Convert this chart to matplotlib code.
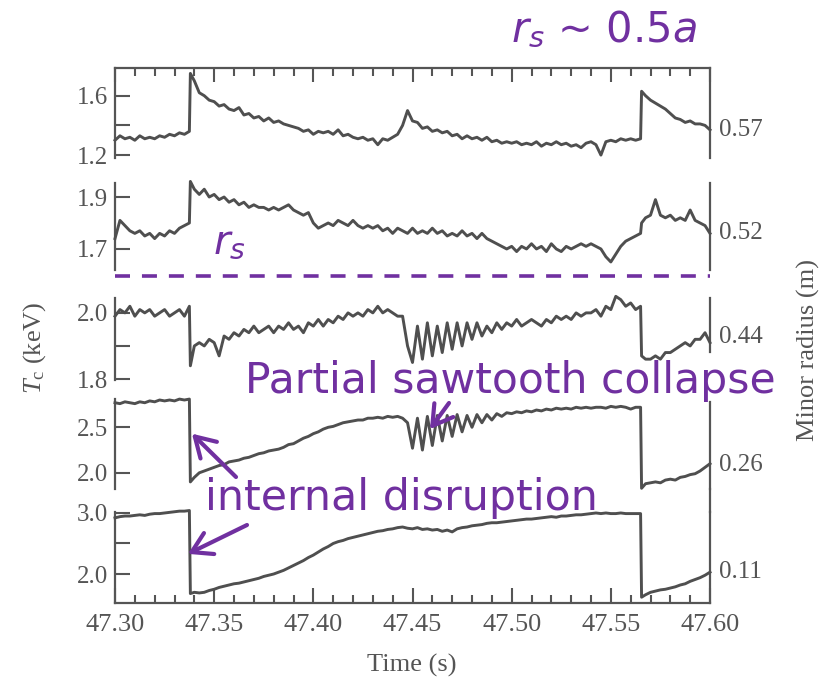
import matplotlib
matplotlib.use("Agg")
import matplotlib.pyplot as plt
from matplotlib.ticker import MultipleLocator, FixedLocator, FormatStrFormatter
from matplotlib.lines import Line2D

plt.rcParams['mathtext.fontset'] = 'custom'
plt.rcParams['mathtext.rm'] = 'Liberation Serif'
plt.rcParams['mathtext.it'] = 'Liberation Serif:italic'
plt.rcParams['mathtext.bfit'] = 'DejaVu Sans:italic'
plt.rcParams['lines.scale_dashes'] = False

# ---------------- data ----------------
time_s = [
    47.3000, 47.3025, 47.3050, 47.3075, 47.3100, 47.3125, 47.3150, 47.3175,
    47.3200, 47.3225, 47.3250, 47.3275, 47.3300, 47.3325, 47.3350, 47.3375,
    47.3380,
    47.3400, 47.3425, 47.3450, 47.3475, 47.3500, 47.3525, 47.3550, 47.3575, 47.3600, 47.3625,
    47.3650, 47.3675, 47.3700, 47.3725, 47.3750, 47.3775, 47.3800, 47.3825, 47.3850, 47.3875,
    47.3900, 47.3925, 47.3950, 47.3975, 47.4000, 47.4025, 47.4050, 47.4075, 47.4100, 47.4125,
    47.4150, 47.4175, 47.4200, 47.4225, 47.4250, 47.4275, 47.4300, 47.4325, 47.4350, 47.4375,
    47.4400, 47.4425, 47.4450, 47.4475, 47.4500, 47.4525, 47.4550, 47.4575, 47.4600, 47.4625,
    47.4650, 47.4675, 47.4700, 47.4725, 47.4750, 47.4775, 47.4800, 47.4825, 47.4850, 47.4875,
    47.4900, 47.4925, 47.4950, 47.4975, 47.5000, 47.5025, 47.5050, 47.5075, 47.5100, 47.5125,
    47.5150, 47.5175, 47.5200, 47.5225, 47.5250, 47.5275, 47.5300, 47.5325, 47.5350, 47.5375,
    47.5400, 47.5425, 47.5450, 47.5475, 47.5500, 47.5525, 47.5550, 47.5575, 47.5600, 47.5625,
    47.5650,
    47.5655,
    47.5675, 47.5700, 47.5725, 47.5750, 47.5775, 47.5800, 47.5825, 47.5850, 47.5875, 47.5900,
    47.5925, 47.5950, 47.5975, 47.6000,
]

Tc_r057 = [
    1.30, 1.33, 1.31, 1.32, 1.30, 1.33, 1.31, 1.32, 1.31, 1.33, 1.32, 1.34, 1.33, 1.35, 1.34, 1.36,
    1.75,
    1.70, 1.62, 1.60, 1.57, 1.56, 1.53, 1.54, 1.51, 1.50, 1.52,
    1.47, 1.48, 1.45, 1.46, 1.43, 1.45, 1.42, 1.43, 1.41, 1.40,
    1.39, 1.38, 1.36, 1.37, 1.34, 1.36, 1.35, 1.36, 1.34, 1.37,
    1.33, 1.34, 1.32, 1.31, 1.32, 1.30, 1.31, 1.27, 1.31, 1.30,
    1.32, 1.34, 1.40, 1.50, 1.43, 1.42, 1.38, 1.39, 1.36, 1.37,
    1.35, 1.36, 1.33, 1.34, 1.31, 1.33, 1.31, 1.32, 1.30, 1.32,
    1.29, 1.30, 1.28, 1.29, 1.28, 1.29, 1.27, 1.28, 1.27, 1.29,
    1.26, 1.28, 1.27, 1.29, 1.27, 1.28, 1.26, 1.27, 1.25, 1.28,
    1.29, 1.27, 1.20, 1.29, 1.30, 1.29, 1.31, 1.30, 1.31, 1.30,
    1.31,
    1.63,
    1.60, 1.57, 1.55, 1.53, 1.51, 1.48, 1.45, 1.44, 1.42, 1.43, 1.41, 1.41, 1.40, 1.37,
]

Tc_r052 = [
    1.74, 1.81, 1.79, 1.77, 1.76, 1.77, 1.75, 1.76, 1.74, 1.76, 1.75, 1.77, 1.76, 1.78, 1.79, 1.80,
    1.96,
    1.93, 1.91, 1.93, 1.90, 1.91, 1.89, 1.90, 1.88, 1.89, 1.87,
    1.88, 1.86, 1.87, 1.86, 1.86, 1.85, 1.86, 1.85, 1.86, 1.87,
    1.85, 1.84, 1.83, 1.84, 1.80, 1.78, 1.79, 1.80, 1.79, 1.81,
    1.80, 1.79, 1.81, 1.79, 1.78, 1.79, 1.78, 1.79, 1.77, 1.78,
    1.76, 1.78, 1.77, 1.76, 1.78, 1.76, 1.77, 1.76, 1.78, 1.76,
    1.77, 1.75, 1.76, 1.75, 1.77, 1.75, 1.76, 1.74, 1.76, 1.74,
    1.73, 1.72, 1.71, 1.70, 1.71, 1.69, 1.71, 1.70, 1.72, 1.70,
    1.71, 1.69, 1.72, 1.70, 1.69, 1.71, 1.70, 1.71, 1.72, 1.71,
    1.72, 1.71, 1.70, 1.67, 1.65, 1.68, 1.71, 1.73, 1.74, 1.75,
    1.76,
    1.80,
    1.82, 1.83, 1.89, 1.83, 1.82, 1.83, 1.81, 1.82, 1.81, 1.85, 1.81, 1.80, 1.79, 1.76,
]

Tc_r044 = [
    1.99, 2.01, 2.00, 2.02, 1.99, 2.01, 2.00, 2.01, 1.99, 2.00, 2.01, 1.99, 2.00, 2.01, 1.99, 2.02,
    1.84,
    1.90, 1.91, 1.90, 1.92, 1.91, 1.87, 1.93, 1.92, 1.94, 1.93,
    1.95, 1.94, 1.96, 1.94, 1.95, 1.96, 1.94, 1.96, 1.95, 1.97,
    1.95, 1.96, 1.94, 1.97, 1.96, 1.98, 1.96, 1.98, 1.97, 1.99,
    1.98, 2.00, 1.99, 2.00, 1.99, 2.01, 2.00, 2.02, 2.00, 2.01,
    2.00, 1.99, 1.99, 1.90, 1.85, 1.96, 1.86, 1.97, 1.87, 1.96,
    1.88, 1.97, 1.89, 1.97, 1.90, 1.97, 1.92, 1.97, 1.93, 1.96,
    1.94, 1.97, 1.95, 1.97, 1.96, 1.98, 1.96, 1.97, 1.98, 1.97,
    1.96, 1.98, 1.97, 1.99, 1.98, 1.99, 1.98, 2.00, 1.99, 2.00,
    2.00, 2.01, 1.99, 2.02, 2.01, 2.05, 2.04, 2.02, 2.03, 2.01,
    2.02,
    1.87,
    1.86, 1.86, 1.87, 1.86, 1.88, 1.88, 1.89, 1.90, 1.91, 1.90, 1.92, 1.92, 1.94, 1.91,
]

Tc_r026 = [
    2.77, 2.76, 2.78, 2.77, 2.76, 2.78, 2.77, 2.79, 2.78, 2.80, 2.79, 2.80, 2.79, 2.81, 2.80, 2.81,
    1.90,
    1.95, 2.00, 2.02, 2.04, 2.06, 2.08, 2.09, 2.12, 2.13, 2.14,
    2.16, 2.17, 2.19, 2.21, 2.22, 2.24, 2.25, 2.26, 2.28, 2.31,
    2.32, 2.35, 2.38, 2.40, 2.43, 2.45, 2.48, 2.50, 2.51, 2.53,
    2.55, 2.56, 2.57, 2.58, 2.58, 2.60, 2.60, 2.61, 2.60, 2.62,
    2.61, 2.62, 2.60, 2.55, 2.27, 2.60, 2.25, 2.62, 2.30, 2.63,
    2.35, 2.63, 2.40, 2.64, 2.45, 2.63, 2.50, 2.64, 2.55, 2.64,
    2.58, 2.65, 2.62, 2.66, 2.65, 2.67, 2.66, 2.68, 2.67, 2.69,
    2.68, 2.70, 2.69, 2.71, 2.70, 2.71, 2.70, 2.72, 2.71, 2.72,
    2.71, 2.72, 2.72, 2.71, 2.73, 2.72, 2.73, 2.72, 2.70, 2.72,
    2.72,
    1.83,
    1.88, 1.89, 1.90, 1.89, 1.92, 1.93, 1.92, 1.95, 1.96, 1.98, 1.99, 2.02, 2.06, 2.10,
]

Tc_r011 = [
    2.92, 2.94, 2.95, 2.95, 2.96, 2.97, 2.96, 2.98, 2.99, 2.99, 3.00, 3.01, 3.02, 3.03, 3.03, 3.04,
    1.68,
    1.70, 1.69, 1.70, 1.73, 1.75, 1.78, 1.80, 1.82, 1.84, 1.85,
    1.87, 1.89, 1.91, 1.93, 1.96, 1.98, 2.00, 2.03, 2.06, 2.10,
    2.14, 2.18, 2.22, 2.27, 2.31, 2.36, 2.41, 2.45, 2.50, 2.53,
    2.55, 2.58, 2.60, 2.62, 2.64, 2.66, 2.68, 2.70, 2.71, 2.73,
    2.74, 2.76, 2.77, 2.75, 2.74, 2.76, 2.73, 2.74, 2.72, 2.73,
    2.70, 2.72, 2.69, 2.74, 2.76, 2.77, 2.79, 2.80, 2.81, 2.83,
    2.84, 2.84, 2.85, 2.86, 2.87, 2.88, 2.89, 2.90, 2.90, 2.91,
    2.92, 2.93, 2.94, 2.93, 2.95, 2.95, 2.96, 2.97, 2.97, 2.98,
    2.99, 3.00, 2.99, 3.00, 2.99, 2.99, 3.00, 2.99, 2.99, 2.99,
    2.99,
    1.62,
    1.66, 1.70, 1.72, 1.74, 1.75, 1.77, 1.79, 1.82, 1.84, 1.88, 1.91, 1.94, 1.98, 2.03,
]

radius_labels = ["0.57", "0.52", "0.44", "0.26", "0.11"]
x_major_ticks = [47.30, 47.35, 47.40, 47.45, 47.50, 47.55, 47.60]

# ---------------- styling / layout ----------------
W, H = 830, 680
PURPLE = '#7030a0'
GRAY = '#555555'
SERIF = 'Liberation Serif'

def fx(px):
    return px / W

def fy(py):
    return 1 - py / H

fig = plt.figure(figsize=(8.3, 6.8), dpi=100)

panels = [
    # top px, bottom px, ylim, major ticks, minor ticks, series, label y px
    (68, 158, (1.1805, 1.7865), [1.2, 1.6], [1.4], Tc_r057, 130),
    (183, 270, (1.619, 1.954), [1.7, 1.9], [], Tc_r052, 233),
    (298, 380, (1.797, 2.045), [1.8, 2.0], [1.9], Tc_r044, 337),
    (399, 489, (1.822, 2.811), [2.0, 2.5], [], Tc_r026, 465),
    (512, 603, (1.525, 3.016), [2.0, 3.0], [2.5], Tc_r011, 572),
]

axes = []
for i, (top, bot, ylim, majt, mint, series, ly) in enumerate(panels):
    ax = fig.add_axes([fx(115), fy(bot), fx(710) - fx(115), (bot - top) / H])
    ax.set_facecolor('none')
    ax.plot(time_s, series, color='#4f4f4f', lw=2.1, clip_on=False, zorder=3)
    ax.set_xlim(47.30, 47.60)
    ax.set_ylim(*ylim)
    for s in ax.spines.values():
        s.set_color(GRAY)
        s.set_linewidth(1.6)
    ax.spines['top'].set_visible(i == 0)
    ax.spines['bottom'].set_visible(i == 4)
    ax.yaxis.set_major_locator(FixedLocator(majt))
    ax.yaxis.set_minor_locator(FixedLocator(mint))
    ax.yaxis.set_major_formatter(FormatStrFormatter('%.1f'))
    ax.yaxis.set_ticks_position('left')
    ax.tick_params(axis='y', which='both', direction='in', color=GRAY, width=1.5,
                   labelsize=18, labelcolor=GRAY, pad=5)
    ax.tick_params(axis='y', which='major', length=11)
    ax.tick_params(axis='y', which='minor', length=11)
    for lab in ax.get_yticklabels():
        lab.set_fontfamily(SERIF)
    ax.xaxis.set_major_locator(FixedLocator(x_major_ticks))
    ax.xaxis.set_minor_locator(MultipleLocator(0.01))
    ax.xaxis.set_major_formatter(FormatStrFormatter('%.2f'))
    if i == 0:
        ax.xaxis.set_ticks_position('top')
        ax.tick_params(axis='x', which='both', direction='in', color=GRAY, width=1.5,
                       labeltop=False, labelbottom=False)
        ax.tick_params(axis='x', which='major', length=10)
        ax.tick_params(axis='x', which='minor', length=6)
    elif i == 4:
        ax.xaxis.set_ticks_position('bottom')
        ax.tick_params(axis='x', which='both', direction='in', color=GRAY, width=1.5,
                       labelsize=19, labelcolor=GRAY, pad=8)
        ax.tick_params(axis='x', which='major', length=11)
        ax.tick_params(axis='x', which='minor', length=6)
        for lab in ax.get_xticklabels():
            lab.set_fontfamily(SERIF)
    else:
        ax.tick_params(axis='x', which='both', bottom=False, top=False,
                       labelbottom=False, labeltop=False)
    fig.text(fx(719), fy(ly), radius_labels[i], fontsize=18, family=SERIF,
             color=GRAY, ha='left', va='center')
    axes.append(ax)

# right spine gaps as in the original
axes[2].spines['right'].set_bounds(1.882, 2.045)
axes[3].spines['right'].set_bounds(1.822, 2.778)
fig.add_artist(Line2D([fx(710), fx(710)], [fy(489), fy(512)], color=GRAY, lw=1.6))

# axis labels
fig.text(fx(35), fy(348), r'$T_{\rm c}$ (keV)', rotation=90, fontsize=19,
         family=SERIF, color=GRAY, ha='center', va='center')
fig.text(fx(808), fy(350), 'Minor radius (m)', rotation=90, fontsize=19,
         family=SERIF, color=GRAY, ha='center', va='center')
fig.text(fx(412), fy(665), 'Time (s)', fontsize=19, family=SERIF, color=GRAY,
         ha='center', va='center')

# purple annotations
fig.text(fx(511), fy(42), r'$\mathbfit{r}_{\mathbfit{s}}$ ~ 0.5$\mathbfit{a}$',
         fontsize=30, color=PURPLE, ha='left', va='baseline', family='DejaVu Sans')
fig.text(fx(213), fy(253), r'$\mathbfit{r}_{\mathbfit{s}}$', fontsize=29,
         color=PURPLE, ha='left', va='baseline', family='DejaVu Sans')
fig.add_artist(Line2D([fx(115), fx(710)], [fy(276), fy(276)], color=PURPLE,
                      lw=2.6, dashes=(10.8, 8.6)))
fig.text(fx(245), fy(393), 'Partial sawtooth collapse', fontsize=30.6,
         color=PURPLE, ha='left', va='baseline', family='DejaVu Sans')
fig.text(fx(205), fy(510), 'internal disruption', fontsize=30.8,
         color=PURPLE, ha='left', va='baseline', family='DejaVu Sans')

arrow_kw = dict(arrowstyle='->,head_length=0.5,head_width=0.3', color=PURPLE,
                lw=3, shrinkA=0, shrinkB=0, mutation_scale=28)
axes[3].annotate('', xy=(47.3388, 2.43), xycoords='data',
                 xytext=(fx(236), fy(477)), textcoords='figure fraction',
                 arrowprops=arrow_kw, annotation_clip=False)
axes[4].annotate('', xy=(47.3368, 2.33), xycoords='data',
                 xytext=(fx(247), fy(525)), textcoords='figure fraction',
                 arrowprops=arrow_kw, annotation_clip=False)
axes[3].annotate('', xy=(47.4588, 2.48), xycoords='data',
                 xytext=(fx(449), fy(403)), textcoords='figure fraction',
                 arrowprops=arrow_kw, annotation_clip=False)

fig.savefig('out.png', dpi=100)
